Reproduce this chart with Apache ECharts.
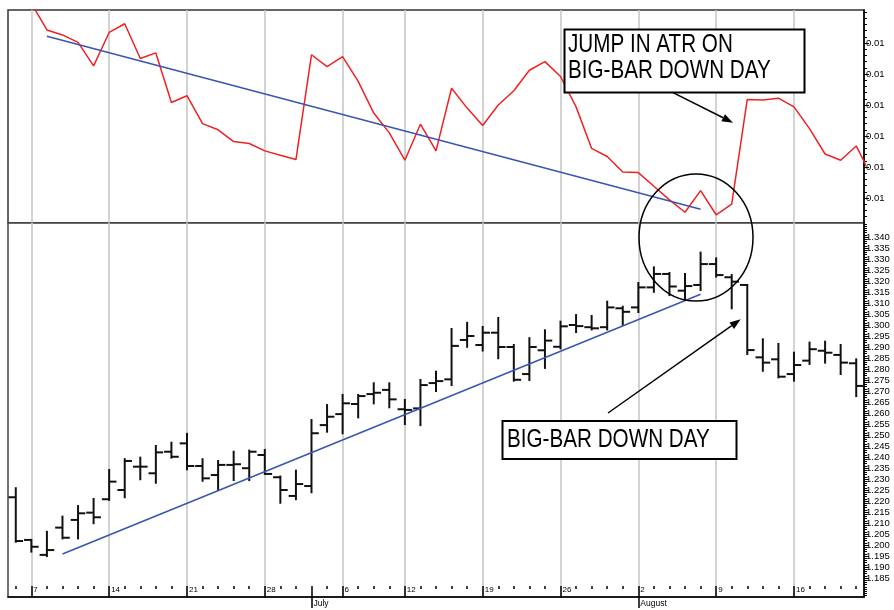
<!DOCTYPE html>
<html>
<head>
<meta charset="utf-8">
<title>Jump in ATR on big-bar down day</title>
<script src="https://cdn.jsdelivr.net/npm/echarts@6/dist/echarts.min.js"></script>
<style>
  html, body { margin: 0; padding: 0; background: #fff; }
  #chart { width: 894px; height: 610px; }
</style>
</head>
<body>
<div id="chart"></div>
<script>
// trading days (last one only feeds the ATR line past the right edge)
const days = [
  'Jun 4',
  'Jun 7', 'Jun 8', 'Jun 9', 'Jun 10', 'Jun 11',
  'Jun 14', 'Jun 15', 'Jun 16', 'Jun 17', 'Jun 18',
  'Jun 21', 'Jun 22', 'Jun 23', 'Jun 24', 'Jun 25',
  'Jun 28', 'Jun 29', 'Jun 30', 'Jul 1', 'Jul 2',
  'Jul 6', 'Jul 7', 'Jul 8', 'Jul 9',
  'Jul 12', 'Jul 13', 'Jul 14', 'Jul 15', 'Jul 16',
  'Jul 19', 'Jul 20', 'Jul 21', 'Jul 22', 'Jul 23',
  'Jul 26', 'Jul 27', 'Jul 28', 'Jul 29', 'Jul 30',
  'Aug 2', 'Aug 3', 'Aug 4', 'Aug 5', 'Aug 6',
  'Aug 9', 'Aug 10', 'Aug 11', 'Aug 12', 'Aug 13',
  'Aug 16', 'Aug 17', 'Aug 18', 'Aug 19', 'Aug 20',
  'Aug 23'
];
const weekStarts = ['Jun 7', 'Jun 14', 'Jun 21', 'Jun 28', 'Jul 6', 'Jul 12', 'Jul 19', 'Jul 26', 'Aug 2', 'Aug 9', 'Aug 16'];
const monthStarts = ['Jul 1', 'Aug 2'];
const monthNames = ['July', 'August'];

// ATR (top panel)
const atr = [
  null, 0.01214, 0.01171, 0.01163, 0.01151, 0.01113, 0.01167, 0.01181, 0.01125, 0.01134,
  0.01054, 0.01065, 0.01020, 0.01010, 0.00991, 0.00988, 0.00976, 0.00969, 0.00962, 0.01131,
  0.01112, 0.01128, 0.01088, 0.01037, 0.01005, 0.00961, 0.01019, 0.00976, 0.01077, 0.01045,
  0.01017, 0.01050, 0.01073, 0.01106, 0.01120, 0.01096, 0.01047, 0.00980, 0.00967, 0.00942,
  0.00941, 0.00919, 0.00897, 0.00877, 0.00912, 0.00873, 0.00890, 0.01059, 0.01058, 0.01061,
  0.01047, 0.01012, 0.00971, 0.00961, 0.00984, 0.00934
];
const atrTrend = [['Jun 8', 0.01161], ['Aug 6', 0.00882]];
const atrLabels = [0.0090, 0.0095, 0.0100, 0.0105, 0.0110, 0.0115];

// price bars (bottom panel)
const opens = [
  1.2217, 1.2023, 1.1955, 1.2079, 1.2114, 1.2147, 1.2208, 1.2250, 1.2356, 1.2326,
  1.2424, 1.2462, 1.2359, 1.2318, 1.2364, 1.2349, 1.2409, 1.2308, 1.2223, 1.2268,
  1.2545, 1.2595, 1.2641, 1.2686, 1.2705, 1.2617, 1.2621, 1.2736, 1.2753, 1.2932,
  1.2909, 1.2965, 1.2900, 1.2777, 1.2885, 1.2901, 1.3000, 1.2990, 1.2990, 1.3076,
  1.3080, 1.3171, 1.3232, 1.3156, 1.3182, 1.3277, 1.3217, 1.3182, 1.2853, 1.2844,
  1.2777, 1.2838, 1.2883, 1.2864, 1.2826
];
const highs = [
  1.2258, 1.2023, 1.2060, 1.2129, 1.2177, 1.2209, 1.2341, 1.2390, 1.2397, 1.2450,
  1.2465, 1.2505, 1.2390, 1.2382, 1.2424, 1.2429, 1.2432, 1.2311, 1.2338, 1.2568,
  1.2636, 1.2682, 1.2682, 1.2735, 1.2735, 1.2659, 1.2750, 1.2788, 1.2982, 1.3010,
  1.2991, 1.3032, 1.2909, 1.2940, 1.2976, 1.3015, 1.3045, 1.3041, 1.3106, 1.3083,
  1.3191, 1.3262, 1.3236, 1.3232, 1.3329, 1.3303, 1.3227, 1.3182, 1.2935, 1.2914,
  1.2874, 1.2920, 1.2924, 1.2909, 1.2844
];
const lows = [
  1.2015, 1.1970, 1.1950, 1.2030, 1.2030, 1.2099, 1.2205, 1.2217, 1.2299, 1.2283,
  1.2397, 1.2344, 1.2292, 1.2250, 1.2295, 1.2295, 1.2323, 1.2192, 1.2208, 1.2240,
  1.2515, 1.2508, 1.2580, 1.2644, 1.2626, 1.2550, 1.2545, 1.2700, 1.2727, 1.2901,
  1.2884, 1.2849, 1.2747, 1.2750, 1.2805, 1.2894, 1.2968, 1.2980, 1.2980, 1.3000,
  1.3059, 1.3151, 1.3136, 1.3114, 1.3159, 1.3220, 1.3076, 1.2868, 1.2792, 1.2762,
  1.2747, 1.2823, 1.2829, 1.2777, 1.2677
];
const closes = [
  1.2018, 1.1992, 1.1977, 1.2033, 1.2144, 1.2126, 1.2288, 1.2382, 1.2356, 1.2421,
  1.2401, 1.2359, 1.2303, 1.2364, 1.2367, 1.2424, 1.2323, 1.2250, 1.2277, 1.2508,
  1.2583, 1.2644, 1.2677, 1.2692, 1.2662, 1.2614, 1.2727, 1.2745, 1.2905, 1.2950,
  1.2965, 1.2900, 1.2751, 1.2900, 1.2929, 1.2994, 1.2995, 1.2985, 1.3080, 1.3060,
  1.3171, 1.3232, 1.3175, 1.3177, 1.3277, 1.3227, 1.3197, 1.2886, 1.2829, 1.2765,
  1.2818, 1.2890, 1.2874, 1.2829, 1.2723
];
const priceTrend = [['Jun 9', 1.1959], ['Aug 6', 1.3140]];
const priceLabels = [
  1.185, 1.190, 1.195, 1.200, 1.205, 1.210, 1.215, 1.220, 1.225, 1.230, 1.235,
  1.240, 1.245, 1.250, 1.255, 1.260, 1.265, 1.270, 1.275, 1.280, 1.285, 1.290,
  1.295, 1.300, 1.305, 1.310, 1.315, 1.320, 1.325, 1.330, 1.335, 1.340
];

// small tick marks on the right axes
const atrFine = [];
for (let k = 87; k <= 120; k++) atrFine.push(k / 10000);
const priceFine = [];
for (let k = 1177; k <= 1346; k++) priceFine.push(k / 1000);

const ohlc = opens.map((o, i) => [i, o, highs[i], lows[i], closes[i]]);

const axisFont = '"Liberation Sans Narrow", "Arial Narrow", "Liberation Sans", sans-serif';
const noteFont = '25.5px "Liberation Sans", Arial, sans-serif';
const isWeek = (i, v) => weekStarts.indexOf(v) >= 0;
const isMonth = (i, v) => monthStarts.indexOf(v) >= 0;

function renderBar(params, api) {
  const i = api.value(0);
  const o = api.coord([i, api.value(1)]);
  const h = api.coord([i, api.value(2)]);
  const l = api.coord([i, api.value(3)]);
  const c = api.coord([i, api.value(4)]);
  const w = api.size([1, 0])[0] * 0.47;
  const st = { stroke: '#111', lineWidth: 2 };
  return {
    type: 'group',
    children: [
      { type: 'line', shape: { x1: h[0], y1: h[1] - 1, x2: l[0], y2: l[1] + 1 }, style: st },
      { type: 'line', shape: { x1: o[0] - w, y1: o[1], x2: o[0], y2: o[1] }, style: st },
      { type: 'line', shape: { x1: c[0], y1: c[1], x2: c[0] + w, y2: c[1] }, style: st }
    ]
  };
}

function arrow(x1, y1, x2, y2) {
  const a = Math.atan2(y2 - y1, x2 - x1), L = 11, W = 4;
  const bx = x2 - L * Math.cos(a), by = y2 - L * Math.sin(a);
  return [
    { type: 'line', z: 100, shape: { x1: x1, y1: y1, x2: bx, y2: by }, style: { stroke: '#000', lineWidth: 1.5 } },
    { type: 'polygon', z: 100, shape: { points: [[x2, y2], [bx - W * Math.sin(a), by + W * Math.cos(a)], [bx + W * Math.sin(a), by - W * Math.cos(a)]] }, style: { fill: '#000' } }
  ];
}

const gridLines = { show: true, interval: isWeek, alignWithLabel: true, lineStyle: { color: '#c4c4c4', width: 1.5 } };
const baseX = { type: 'category', data: days, max: 54, boundaryGap: true };

const chart = echarts.init(document.getElementById('chart'));

const option = {
  animation: false,
  backgroundColor: '#fff',
  grid: [
    { left: 8, right: 30, top: 10, height: 212.7, show: true, borderColor: '#333', borderWidth: 1.5 },
    { left: 8, right: 30, top: 222.7, height: 374.3, show: true, borderColor: '#444', borderWidth: 1.5 }
  ],
  xAxis: [
    Object.assign({}, baseX, {
      gridIndex: 0, axisLine: { show: false }, axisTick: { show: false }, axisLabel: { show: false },
      splitLine: gridLines
    }),
    Object.assign({}, baseX, {
      gridIndex: 1, position: 'bottom',
      axisLine: { show: true, lineStyle: { color: '#000', width: 1.5 } },
      axisTick: { show: true, interval: isWeek, alignWithLabel: true, inside: true, length: 10, lineStyle: { color: '#000', width: 1.5 } },
      axisLabel: {
        show: true, inside: true, interval: isWeek, align: 'left', margin: 3, padding: [0, 0, 0, 2],
        fontSize: 8, fontFamily: axisFont, color: '#000',
        formatter: v => v.split(' ')[1]
      },
      splitLine: gridLines
    }),
    Object.assign({}, baseX, {
      gridIndex: 1, position: 'bottom', offset: -8,
      axisLine: { show: false },
      axisTick: { show: true, interval: 0, alignWithLabel: true, inside: true, length: 3, lineStyle: { color: '#000', width: 1.5 } },
      axisLabel: { show: false }, splitLine: { show: false }
    }),
    Object.assign({}, baseX, {
      gridIndex: 1, position: 'bottom', offset: -10,
      axisLine: { show: false },
      axisTick: { show: true, interval: isMonth, alignWithLabel: true, length: 21, lineStyle: { color: '#000', width: 1.5 } },
      axisLabel: {
        show: true, interval: isMonth, align: 'left', margin: 12, padding: [0, 0, 0, 2],
        fontSize: 8.5, fontFamily: axisFont, color: '#000',
        formatter: v => monthNames[monthStarts.indexOf(v)]
      },
      splitLine: { show: false }
    })
  ],
  yAxis: [
    {
      gridIndex: 0, type: 'value', position: 'right', min: 0.008602, max: 0.012032,
      axisLine: { show: true, lineStyle: { color: '#000', width: 1.5 } },
      axisTick: { show: true, customValues: atrLabels, length: 5, lineStyle: { color: '#000' } },
      axisLabel: { customValues: atrLabels, formatter: v => v.toFixed(2), fontSize: 9.5, fontFamily: axisFont, color: '#000', margin: 2 },
      splitLine: { show: false }
    },
    {
      gridIndex: 0, type: 'value', position: 'right', min: 0.008602, max: 0.012032,
      axisLine: { show: false },
      axisTick: { show: true, customValues: atrFine, length: 3, lineStyle: { color: '#000' } },
      axisLabel: { show: false }, splitLine: { show: false }
    },
    {
      gridIndex: 1, type: 'value', position: 'right', min: 1.17636, max: 1.3465,
      axisLine: { show: true, lineStyle: { color: '#000', width: 1.5 } },
      axisTick: { show: true, customValues: priceLabels, length: 5, lineStyle: { color: '#000' } },
      axisLabel: { customValues: priceLabels, formatter: v => v.toFixed(3), fontSize: 9.5, fontFamily: axisFont, color: '#000', margin: 2 },
      splitLine: { show: false }
    },
    {
      gridIndex: 1, type: 'value', position: 'right', min: 1.17636, max: 1.3465,
      axisLine: { show: false },
      axisTick: { show: true, customValues: priceFine, length: 3, lineStyle: { color: '#000' } },
      axisLabel: { show: false }, splitLine: { show: false }
    }
  ],
  series: [
    {
      name: 'ATR', type: 'line', xAxisIndex: 0, yAxisIndex: 0, data: atr,
      showSymbol: false, lineStyle: { color: '#ee2222', width: 1.5 }, clip: true
    },
    {
      name: 'ATR trend', type: 'line', xAxisIndex: 0, yAxisIndex: 0, data: atrTrend,
      showSymbol: false, lineStyle: { color: '#3a55b0', width: 1.5 }
    },
    {
      name: 'Price', type: 'custom', xAxisIndex: 1, yAxisIndex: 2, data: ohlc,
      renderItem: renderBar, encode: { x: 0, y: [1, 2, 3, 4] }
    },
    {
      name: 'Price trend', type: 'line', xAxisIndex: 1, yAxisIndex: 2, data: priceTrend,
      showSymbol: false, lineStyle: { color: '#3a55b0', width: 1.5 }, z: 3
    }
  ],
  graphic: [
    { type: 'ellipse', z: 100, shape: { cx: 696, cy: 237.5, rx: 57, ry: 63.5 }, style: { fill: null, stroke: '#000', lineWidth: 1.5 } },
    { type: 'rect', z: 100, shape: { x: 564.5, y: 29.5, width: 240, height: 63 }, style: { fill: '#fff', stroke: '#000', lineWidth: 2 } },
    { type: 'text', z: 101, x: 568, y: 32, scaleX: 0.81, style: { text: 'JUMP IN ATR ON\nBIG-BAR DOWN DAY', font: noteFont, lineHeight: 26, fill: '#000' } },
    { type: 'rect', z: 100, shape: { x: 502.5, y: 421, width: 234, height: 38 }, style: { fill: '#fff', stroke: '#000', lineWidth: 2 } },
    { type: 'text', z: 101, x: 507, y: 427, scaleX: 0.81, style: { text: 'BIG-BAR DOWN DAY', font: noteFont, lineHeight: 26, fill: '#000' } }
  ].concat(arrow(673, 92.7, 733, 122.7), arrow(608, 413, 740.7, 319.3))
};

chart.setOption(option);
</script>
</body>
</html>
